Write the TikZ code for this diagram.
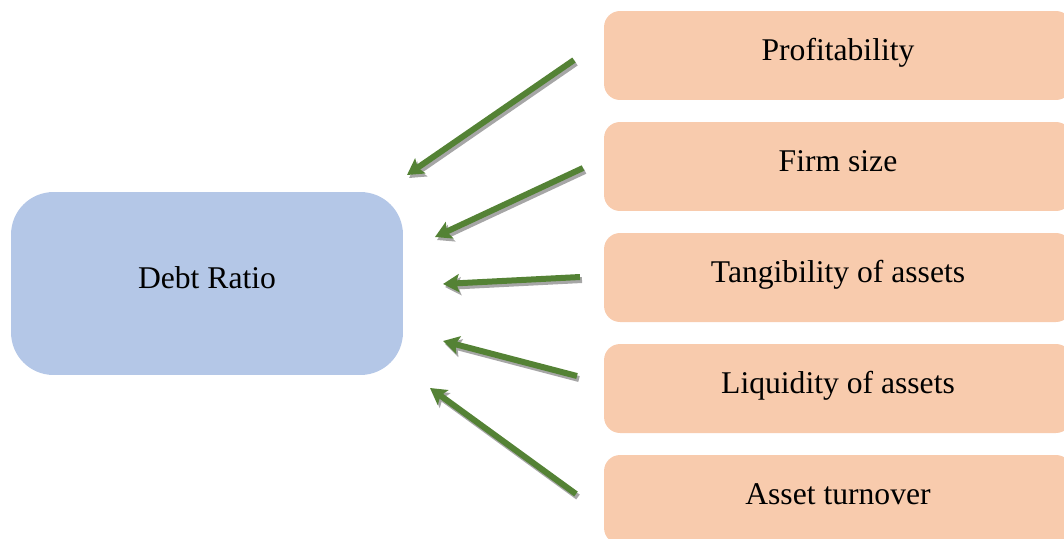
\documentclass[tikz,border=0pt]{standalone}
\usepackage{fontspec}
\setmainfont{Liberation Serif}
\usetikzlibrary{arrows.meta}
\definecolor{ratioblue}{HTML}{B4C7E7}
\definecolor{factorpeach}{HTML}{F8CBAD}
\definecolor{arrowgreen}{HTML}{548235}
\tikzset{
  ratiobox/.style={fill=ratioblue, rounded corners=0.85cm, minimum width=7.84cm, minimum height=3.66cm, text height=0.47cm, text depth=0.28cm, font=\fontsize{18}{20}\selectfont},
  factorbox/.style={fill=factorpeach, rounded corners=0.32cm, minimum width=9.36cm, minimum height=1.78cm, text height=0.47cm, text depth=0.26cm, font=\fontsize{18}{20}\selectfont},
  arr/.style={draw=arrowgreen, line width=0.12cm, -{Stealth[length=0.32cm, width=0.36cm, inset=0.06cm]}},
  arrshadow/.style={draw=black!35, line width=0.12cm, -{Stealth[length=0.32cm, width=0.36cm, inset=0.06cm]}}
}
\begin{document}
\begin{tikzpicture}[x=0.02cm, y=-0.02cm]
\useasboundingbox (0,0) rectangle (1064,538);
\clip (0,0) rectangle (1064,538);
% the target
\node[ratiobox] (debt) at (207,283.5) {Debt Ratio};
% the factors
\node[factorbox] (prof) at (838,55.5) {Profitability};
\node[factorbox] (size) at (838,166.5) {Firm size};
\node[factorbox] (tang) at (838,277.5) {Tangibility of assets};
\node[factorbox] (liq) at (838,388.5) {Liquidity of assets};
\node[factorbox] (turn) at (838,499.5) {Asset turnover};
% arrow ends
\coordinate (s1) at (574,60);  \coordinate (t1) at (407,175);
\coordinate (s2) at (583,168); \coordinate (t2) at (435,237);
\coordinate (s3) at (580,277); \coordinate (t3) at (443,284);
\coordinate (s4) at (577,376); \coordinate (t4) at (443,341);
\coordinate (s5) at (576,494); \coordinate (t5) at (430,388);
\foreach \i in {1,...,5}{
  \draw[arrshadow] ([shift={(2,3)}]s\i) -- ([shift={(2,3)}]t\i);
  \draw[arr] (s\i) -- (t\i);
}
\end{tikzpicture}
\end{document}
